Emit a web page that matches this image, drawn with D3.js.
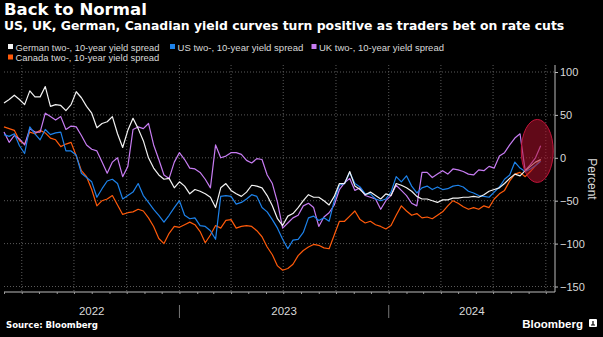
<!DOCTYPE html>
<html>
<head>
<meta charset="utf-8">
<script src="https://cdn.jsdelivr.net/npm/d3@7"></script>
<style>
  body { margin: 0; background: #000; }
  svg { display: block; background: #000; font-family: "Liberation Sans", Arial, sans-serif; }
</style>
</head>
<body>
<svg width="603" height="337"></svg>
<script>
// **** data (one value every 9 days from 1 Mar 2022) ****
var startDate = new Date(2022, 2, 1)
var stepDays = 9

var german = [64, 68, 73, 68, 62, 78, 71, 71, 83, 60, 62, 61, 55, 62, 77, 70, 60, 52, 35, 40,
    42, 48, 28, 12, 32, 46, 34, 20, 0, -12, -20, -25, -24, -35, -28, -33, -42, -37, -39, -42,
    -46, -58, -35, -30, -38, -42, -45, -40, -32, -33, -35, -44, -56, -71, -79, -68, -65, -58, -50, -43,
    -46, -46, -50, -55, -45, -30, -30, -16, -33, -37, -43, -40, -44, -48, -42, -44, -30, -32, -35, -39,
    -45, -48, -48, -50, -52, -49, -49, -47, -47, -46, -46, -45, -46, -43, -39, -37, -35, -30, -24, -19,
    -21, -15, -10, -5, -2]

var us = [27, 25, 28, 14, 5, 36, 28, 21, 33, 27, 29, 30, 8, 8, 3, -18, -23, -28, -46, -36,
    -27, -25, -30, -48, -44, -40, -30, -44, -52, -60, -67, -75, -67, -58, -50, -67, -71, -70, -79, -80,
    -85, -95, -45, -44, -45, -54, -52, -48, -43, -45, -58, -63, -72, -82, -95, -106, -96, -95, -87, -70,
    -68, -73, -70, -74, -50, -32, -30, -17, -30, -34, -42, -42, -48, -50, -48, -40, -22, -28, -21, -33,
    -41, -35, -33, -37, -34, -37, -36, -33, -32, -34, -39, -41, -44, -45, -46, -40, -34, -25, -20, -5,
    -12, -16, -13, -9, -4]

var uk = [30, 18, 26, 22, 15, 34, 30, 30, 52, 48, 44, 48, 33, 37, 36, 26, 15, 10, 8, -5,
    -18, -5, 0, -22, -10, 33, 36, 34, 40, 15, -2, -20, -24, -5, 6, -2, -12, -13, -17, -25,
    -35, 15, 0, 2, 6, 6, 4, -3, -6, -1, -2, -20, -30, -52, -82, -76, -70, -67, -56, -53,
    -58, -80, -69, -64, -55, -37, -29, -24, -38, -35, -44, -46, -48, -60, -50, -44, -32, -38, -44, -53,
    -56, -17, -17, -23, -19, -15, -19, -13, -14, -16, -19, -20, -14, -15, -10, -12, 2, 6, 15, 23,
    28, -15, -8, 0, 14]

var canada = [36, 34, 32, 20, 16, 30, 28, 32, 29, 23, 21, 13, 16, 18, 2, -15, -22, -37, -56, -50,
    -48, -44, -55, -66, -64, -63, -60, -62, -70, -80, -94, -100, -88, -80, -81, -78, -75, -78, -86, -99,
    -90, -79, -82, -73, -72, -82, -80, -79, -80, -85, -92, -104, -113, -126, -131, -129, -124, -114, -108, -104,
    -101, -102, -105, -106, -90, -74, -74, -68, -62, -72, -76, -74, -78, -80, -83, -79, -67, -56, -62, -67,
    -65, -70, -69, -71, -67, -63, -56, -50, -53, -57, -60, -58, -60, -56, -58, -48, -42, -38, -27, -19,
    -17, -22, -16, -9, -2]

var seriesNames = ['German two-, 10-year yield spread', 'US two-, 10-year yield spread',
    'UK two-, 10-year yield spread', 'Canada two-, 10-year yield spread']
var seriesColors = ['#f2f2f2', '#1d82ea', '#c77cf2', '#ff5a0a']
var yTicks = [100, 50, 0, -50, -100, -150]
var yearLabels = ['2022', '2023', '2024']

// **** scales ****
var svg = d3.select('svg')
var xScale = d3.scaleTime()
    .domain([new Date(2022, 2, 1), new Date(2024, 9, 17)]).range([4, 555])
var yScale = d3.scaleLinear()
    .domain([-150, 100]).range([286.5, 72])

var dates = german.map(function(d, i) { return d3.timeDay.offset(startDate, i * stepDays) })

// shrink or grow a text's font so it spans the given width
function fitWidth(sel, width) {
    var w = sel.node().getComputedTextLength()
    var fs = parseFloat(sel.style('font-size'))
    sel.style('font-size', (fs * width / w).toFixed(2) + 'px')
}

// **** titles ****
var title = svg.append('text').attr('x', 4).attr('y', 15)
    .style('font-family', '"DejaVu Sans", sans-serif')
    .style('font-size', '16px').style('font-weight', 700).attr('fill', '#fff')
    .text('Back to Normal')
fitWidth(title, 143)
var subtitle = svg.append('text').attr('x', 4).attr('y', 29.5)
    .style('font-family', '"DejaVu Sans", sans-serif')
    .style('font-size', '11px').style('font-weight', 700).attr('fill', '#fff')
    .text('US, UK, German, Canadian yield curves turn positive as traders bet on rate cuts')
fitWidth(subtitle, 561)

// **** legend ****
var legendPos = [[8, 47], [170, 47], [311.5, 47], [8, 57.5]]
var legendWidths = [144, 126, 125, 144]
seriesNames.forEach(function(name, i) {
    var g = svg.append('g').attr('transform', 'translate(' + legendPos[i][0] + ',' + legendPos[i][1] + ')')
    g.append('rect').attr('x', 0).attr('y', -3).attr('width', 5).attr('height', 5).attr('fill', seriesColors[i])
    var t = g.append('text').attr('x', 7.5).attr('y', 3.5)
        .style('font-size', '10px').attr('fill', '#d9d9d9').text(name)
    fitWidth(t, legendWidths[i])
})

// **** grid ****
yTicks.forEach(function(t) {
    svg.append('line').attr('x1', 4).attr('x2', 555)
        .attr('y1', yScale(t)).attr('y2', yScale(t))
        .attr('stroke', '#5a5a5a').attr('stroke-dasharray', '1,2')
})
var quarters = d3.timeMonth.every(3).range(new Date(2022, 3, 1), new Date(2024, 9, 17))
quarters.forEach(function(q) {
    svg.append('line').attr('x1', xScale(q)).attr('x2', xScale(q))
        .attr('y1', 65).attr('y2', 292)
        .attr('stroke', '#5a5a5a').attr('stroke-dasharray', '1,2')
})

// **** lines ****
var line = d3.line()
    .x(function(d, i) { return xScale(dates[i]) })
    .y(function(d) { return yScale(d) })
var allSeries = [canada, uk, us, german]
var drawColors = [seriesColors[3], seriesColors[2], seriesColors[1], seriesColors[0]]
allSeries.forEach(function(s, i) {
    svg.append('path').datum(s)
        .attr('d', line)
        .attr('fill', 'none')
        .attr('stroke', drawColors[i])
        .attr('stroke-width', 1.2)
        .attr('stroke-linejoin', 'round')
})

// highlight ellipse
svg.append('ellipse')
    .attr('cx', xScale(new Date(2024, 8, 16))).attr('cy', yScale(8))
    .attr('rx', 16).attr('ry', 31.5)
    .attr('fill', '#b0102c').attr('fill-opacity', 0.55)
    .attr('stroke', '#c0143a').attr('stroke-width', 1)

// **** axes ****
var yAxis = svg.append('g').attr('transform', 'translate(555,0)')
    .call(d3.axisRight(yScale).tickValues(yTicks).tickSize(3).tickPadding(2))
yAxis.select('.domain').attr('d', 'M0,65V292').attr('stroke', '#bbb')
yAxis.selectAll('.tick line').attr('stroke', '#bbb')
yAxis.selectAll('.tick text').attr('fill', '#d9d9d9')
    .style('font-size', '11px').style('font-family', '"Liberation Sans", Arial, sans-serif')

svg.append('text')
    .attr('transform', 'translate(588,179) rotate(90)')
    .attr('text-anchor', 'middle')
    .style('font-size', '12px').attr('fill', '#d9d9d9')
    .text('Percent')

var xAxis = svg.append('g').attr('transform', 'translate(0,292)')
    .call(d3.axisBottom(xScale).ticks(d3.timeMonth.every(1)).tickSize(2).tickFormat(''))
xAxis.select('.domain').attr('d', 'M4,0H555').attr('stroke', '#bbb')
xAxis.selectAll('.tick line').attr('stroke', '#999')

var yearStarts = [new Date(2022, 2, 1), new Date(2023, 0, 1), new Date(2024, 0, 1), new Date(2024, 9, 17)]
yearLabels.forEach(function(lab, i) {
    var a = xScale(yearStarts[i]), b = xScale(yearStarts[i + 1])
    svg.append('text').attr('x', (a + b) / 2).attr('y', 315)
        .attr('text-anchor', 'middle')
        .style('font-size', '11.5px').attr('fill', '#d9d9d9')
        .text(lab)
    if (i > 0) {
        svg.append('line').attr('x1', a).attr('x2', a).attr('y1', 305).attr('y2', 318)
            .attr('stroke', '#777')
    }
})

// **** footer ****
var source = svg.append('text').attr('x', 6).attr('y', 328)
    .style('font-family', '"DejaVu Sans", sans-serif')
    .style('font-size', '9px').style('font-weight', 700).attr('fill', '#fff')
    .text('Source: Bloomberg')
fitWidth(source, 92)
svg.append('text').attr('x', 583).attr('y', 327.5)
    .attr('text-anchor', 'end')
    .style('font-size', '11.5px').style('font-weight', 600).attr('fill', '#fff')
    .text('Bloomberg')
svg.append('rect').attr('x', 589).attr('y', 319).attr('width', 8).attr('height', 8)
    .attr('rx', 1).attr('fill', '#fff')
svg.append('path').attr('d', 'M591,325H595M593,321V325').attr('stroke', '#000').attr('stroke-width', 1.2)
</script>
</body>
</html>
